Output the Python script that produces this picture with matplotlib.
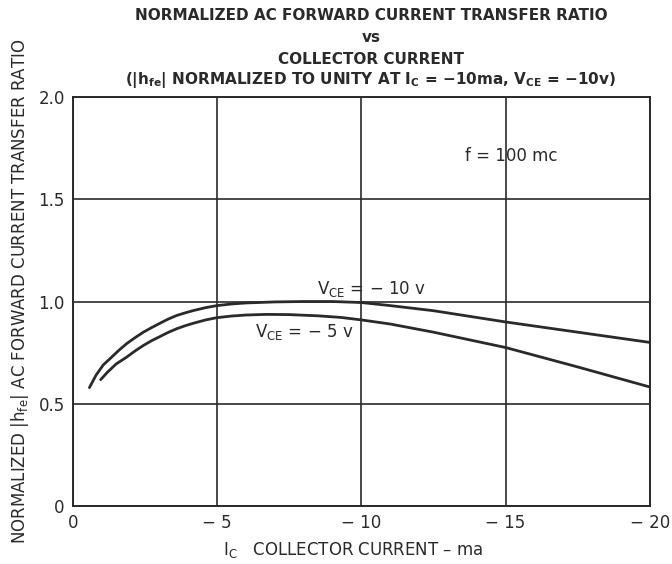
import numpy as np
import matplotlib.pyplot as plt

plt.rcParams['font.family'] = ['DejaVu Sans']
plt.rcParams['mathtext.fontset'] = 'dejavusans'
plt.rcParams['mathtext.default'] = 'regular'

ink = '#2a2a2a'

# Curves (collector current in ma, normalized |hfe|)
ic_10v = [-0.57, -0.8, -1.05, -1.28, -1.58, -1.86, -2.15, -2.44, -2.72, -3.02, -3.3,
          -3.6, -3.9, -4.18, -4.6, -4.99, -5.5, -6.0, -7.0, -8.0, -9.0, -10.0,
          -11.0, -12.5, -15.0, -17.5, -20.0]
hfe_10v = [0.579, 0.64, 0.69, 0.72, 0.76, 0.794, 0.823, 0.85, 0.872, 0.894, 0.914,
           0.932, 0.945, 0.956, 0.97, 0.98, 0.988, 0.993, 0.998, 1.0, 1.0, 0.995,
           0.98, 0.955, 0.90, 0.85, 0.80]

ic_5v = [-0.96, -1.2, -1.5, -1.86, -2.15, -2.44, -2.72, -3.02, -3.3, -3.6, -3.9,
         -4.18, -4.6, -4.99, -5.5, -6.0, -6.7, -7.5, -8.5, -9.3, -10.0, -11.0,
         -12.5, -15.0, -17.5, -20.0]
hfe_5v = [0.618, 0.655, 0.695, 0.728, 0.758, 0.785, 0.808, 0.829, 0.849, 0.867, 0.882,
          0.894, 0.91, 0.921, 0.929, 0.934, 0.937, 0.936, 0.93, 0.922, 0.91, 0.89,
          0.85, 0.775, 0.68, 0.582]

x_ticks = [0, -5, -10, -15, -20]
x_tick_labels = ['0', '\u2212 5', '\u2212 10', '\u2212 15', '\u2212 20']
y_ticks = [0, 0.5, 1.0, 1.5, 2.0]
y_tick_labels = ['0', '0.5', '1.0', '1.5', '2.0']

fig = plt.figure(figsize=(6.72, 5.64), dpi=100)
ax = fig.add_axes([0.1086, 0.1028, 0.8584, 0.7252])

ax.plot(ic_10v, hfe_10v, color=ink, linewidth=2.0, solid_capstyle='round',
        solid_joinstyle='round')
ax.plot(ic_5v, hfe_5v, color=ink, linewidth=2.0, solid_capstyle='round',
        solid_joinstyle='round')

ax.set_xlim(0, -20)
ax.set_ylim(0, 2.0)
ax.set_xticks(x_ticks)
ax.set_xticklabels(x_tick_labels)
ax.set_yticks(y_ticks)
ax.set_yticklabels(y_tick_labels)
ax.tick_params(length=0, labelsize=12, colors=ink, pad=6)
ax.grid(True, color=ink, linewidth=1.2)
for s in ax.spines.values():
    s.set_color(ink)
    s.set_linewidth(1.4)

# curve labels
ax.text(-8.47, 1.063, 'V$_{CE}$ = \u2212 10 v', fontsize=12, color=ink,
        va='center', ha='left')
ax.text(-6.32, 0.85, 'V$_{CE}$ = \u2212 5 v', fontsize=12, color=ink,
        va='center', ha='left')
ax.text(-13.6, 1.71, 'f = 100 mc', fontsize=12, color=ink, va='center', ha='left')

# title block
fig.text(0.552, 1 - 15 / 564, 'NORMALIZED AC FORWARD CURRENT TRANSFER RATIO',
         fontsize=11, fontweight='bold', color=ink, ha='center', va='center')
fig.text(0.552, 1 - 38 / 564, 'vs', fontsize=11, fontweight='bold', color=ink,
         ha='center', va='center')
fig.text(0.552, 1 - 60 / 564, 'COLLECTOR CURRENT', fontsize=11, fontweight='bold',
         color=ink, ha='center', va='center')
fig.text(0.552, 1 - 80 / 564,
         '(|h$_{\\mathbf{fe}}$| NORMALIZED TO UNITY AT I$_{\\mathbf{C}}$ = \u221210ma, '
         'V$_{\\mathbf{CE}}$ = \u221210v)',
         fontsize=11, fontweight='bold', color=ink, ha='center', va='center')

fig.text(20 / 672, 1 - 291 / 564,
         'NORMALIZED |h$_{fe}$| AC FORWARD CURRENT TRANSFER RATIO',
         fontsize=12, color=ink, rotation=90, ha='center', va='center')
fig.text(353 / 672, 1 - 550 / 564, 'I$_{C}$   COLLECTOR CURRENT \u2013 ma',
         fontsize=12, color=ink, ha='center', va='center')

plt.savefig('out.png', dpi=100)
